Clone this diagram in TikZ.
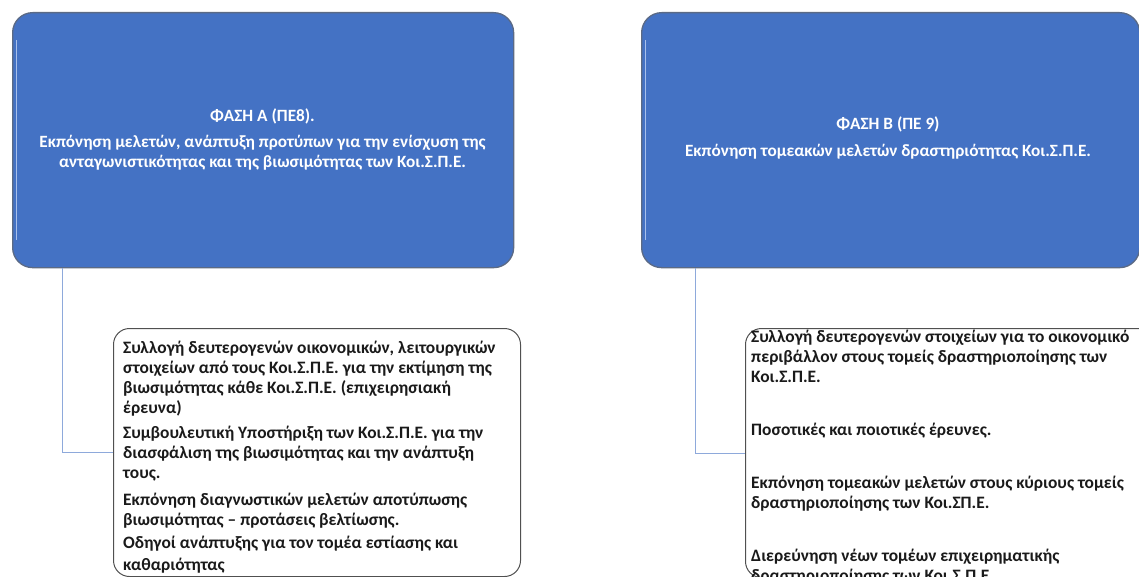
\documentclass[tikz,border=0pt]{standalone}
\usepackage{fontspec}
\setmainfont{Carlito}[BoldFont={Carlito Bold}]
\definecolor{phasefill}{HTML}{4472C4}
\definecolor{phaseedge}{HTML}{5B6A85}
\definecolor{phaselight}{HTML}{A9C0EA}
\definecolor{connc}{HTML}{8EA9DB}
\definecolor{subedge}{HTML}{505050}
\definecolor{txt}{HTML}{1A1A1A}
\begin{document}
\begin{tikzpicture}[x=1pt,y=-1pt,
  phase/.style={rectangle, rounded corners=20pt, fill=phasefill, draw=phaseedge, line width=1.3pt, anchor=north west, inner sep=0pt},
  phasetext/.style={text=white, font=\fontsize{17.2}{20}\selectfont\bfseries, align=center, inner sep=0pt},
  sub/.style={rectangle, rounded corners=16pt, fill=white, draw=subedge, line width=1pt, anchor=north west, inner sep=0pt},
  item/.style={text=txt, font=\fontsize{17.4}{20}\selectfont\bfseries, align=left, anchor=base west, inner sep=0pt},
  conn/.style={draw=connc, line width=1pt}
]
\useasboundingbox (0,0) rectangle (1139,577);
\clip (0,0) rectangle (1139,577);
\fill[white] (0,0) rectangle (1139,577);

% phase boxes
\node[phase, minimum width=501pt, minimum height=255pt] (A) at (12,12) {};
\node[phase, minimum width=498pt, minimum height=255pt] (B) at (641,12) {};
\draw[phaselight, line width=1pt] (16,40) -- (16,240);
\draw[phaselight, line width=1pt] (645,40) -- (645,240);

% (base anchor = baseline of the last line)
\node[phasetext, anchor=base] (At) at (262.5,122) {ΦΑΣΗ Α (ΠΕ8).};
\node[phasetext, anchor=base] (Ad) at (262.5,168) {Εκπόνηση μελετών, ανάπτυξη προτύπων για την ενίσχυση της\\ανταγωνιστικότητας και της βιωσιμότητας των Κοι.Σ.Π.Ε.};
\node[phasetext, anchor=base] (Bt) at (888,130) {ΦΑΣΗ Β (ΠΕ 9)};
\node[phasetext, anchor=base] (Bd) at (888,157) {Εκπόνηση τομεακών μελετών δραστηριότητας Κοι.Σ.Π.Ε.};

% sub boxes
\node[sub, minimum width=407pt, minimum height=248pt] (L) at (113,328) {};
\node[sub, minimum width=410pt, minimum height=249pt] (R) at (745,328) {};

% connectors
\coordinate (ca) at (62,452);
\coordinate (cb) at (695,452);
\draw[conn] (A.south -| ca) |- (L.west);
\draw[conn] (B.south -| cb) |- (R.west);

% left items
\node[item] (l1) at (123,413) {Συλλογή δευτερογενών οικονομικών, λειτουργικών\\στοιχείων από τους Κοι.Σ.Π.Ε. για την εκτίμηση της\\βιωσιμότητας κάθε Κοι.Σ.Π.Ε. (επιχειρησιακή\\έρευνα)};
\node[item] (l2) at (123,478) {Συμβουλευτική Υποστήριξη των Κοι.Σ.Π.Ε. για την\\διασφάλιση της βιωσιμότητας και την ανάπτυξη\\τους.};
\node[item] (l3) at (123,525) {Εκπόνηση διαγνωστικών μελετών αποτύπωσης\\βιωσιμότητας – προτάσεις βελτίωσης.};
\node[item, font=\fontsize{17.4}{22}\selectfont\bfseries] (l4) at (123,570) {Οδηγοί ανάπτυξης για τον τομέα εστίασης και\\καθαριότητας};

% right items
\node[item] (r1) at (751,382) {Συλλογή δευτερογενών στοιχείων για το οικονομικό\\περιβάλλον στους τομείς δραστηριοποίησης των\\Κοι.Σ.Π.Ε.};
\node[item] (r2) at (751,435) {Ποσοτικές και ποιοτικές έρευνες.};
\node[item] (r3) at (751,508) {Εκπόνηση τομεακών μελετών στους κύριους τομείς\\δραστηριοποίησης των Κοι.ΣΠ.Ε.};
\node[item] (r4) at (751,581) {Διερεύνηση νέων τομέων επιχειρηματικής\\δραστηριοποίησης των Κοι.Σ.Π.Ε.};
\end{tikzpicture}
\end{document}
